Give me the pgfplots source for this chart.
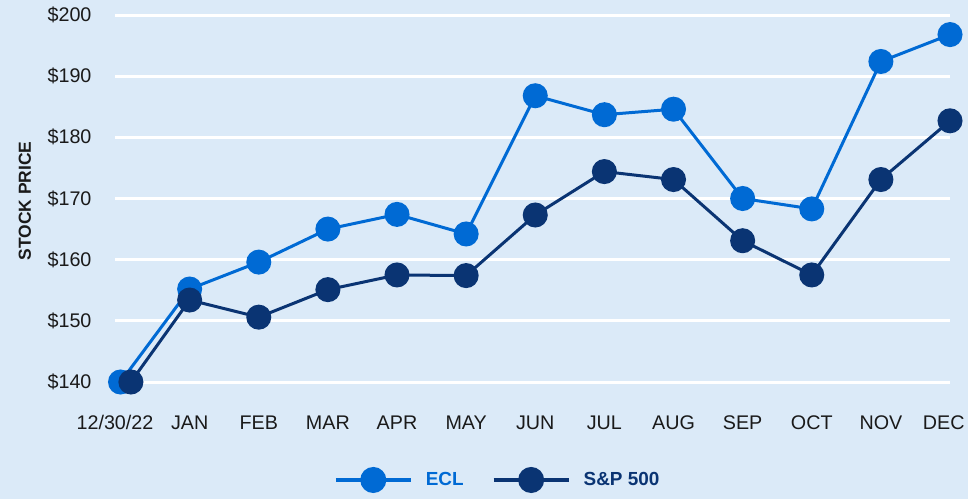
\documentclass[border=0pt]{standalone}
\usepackage{pgfplots}
\pgfplotsset{compat=1.18}
\usepackage{fontspec}
\setmainfont{Liberation Sans}
\definecolor{bgc}{RGB}{219,234,248}
\definecolor{eclc}{RGB}{0,106,212}
\definecolor{spc}{RGB}{10,52,115}
\definecolor{txt}{RGB}{26,26,26}
\begin{document}
\begin{tikzpicture}
\fill[bgc] (-115bp,-117bp) rectangle (853bp,382bp);
\begin{axis}[
  scale only axis,
  width=835bp, height=367bp,
  xmin=-0.08, xmax=12,
  ymin=140, ymax=200,
  clip=false,
  axis x line*=bottom, axis y line*=left,
  axis line style={draw=none},
  ymajorgrids,
  grid style={white, line width=3bp},
  major tick length=0pt,
  xtick={-0.08,1,2,3,4,5,6,7,8,9,10,11,11.91},
  xticklabels={12/30/22,JAN,FEB,MAR,APR,MAY,JUN,JUL,AUG,SEP,OCT,NOV,DEC},
  ytick={140,150,160,170,180,190,200},
  yticklabels={\$140,\$150,\$160,\$170,\$180,\$190,\$200},
  tick label style={font=\fontsize{19.8}{23}\selectfont, text=txt},
  xticklabel style={yshift=-30bp},
  yticklabel style={xshift=-20bp},
  ylabel={STOCK PRICE},
  ylabel style={at={(axis description cs:-0.108,0.493)}, anchor=center, font=\fontsize{17.5}{21}\selectfont\bfseries, text=txt},
  legend columns=2,
  legend style={at={(axis description cs:0.457,-0.267)}, anchor=center, draw=none, fill=none,
    font=\fontsize{19}{22}\selectfont\bfseries,
    /tikz/every even column/.append style={column sep=28bp},
    nodes={inner sep=0pt, anchor=west}},
  legend image code/.code={\draw[#1,line width=4bp,mark repeat=2,mark phase=2] plot coordinates {(0bp,0bp) (37.5bp,0bp) (75bp,0bp)};},
]
\addplot[eclc, line width=3bp, mark=*, mark size=11bp, mark options={fill=eclc, draw=none}] coordinates {
(0,140) (1,155.2) (2,159.6) (3,165.0) (4,167.4) (5,164.2) (6,186.8) (7,183.7) (8,184.6) (9,170.0) (10,168.3) (11,192.4) (12,196.8)};
\addlegendentry{\hspace{13bp}\textcolor{eclc}{ECL}}
\addplot[spc, line width=3bp, mark=*, mark size=11bp, mark options={fill=spc, draw=none}] coordinates {
(0.15,140) (1,153.4) (2,150.6) (3,155.1) (4,157.5) (5,157.4) (6,167.3) (7,174.4) (8,173.1) (9,163.1) (10,157.5) (11,173.1) (12,182.7)};
\addlegendentry{\hspace{13bp}\textcolor{spc}{S\&P 500}}
\end{axis}
\pgfresetboundingbox
\path (-115bp,-117bp) rectangle (853bp,382bp);
\end{tikzpicture}
\end{document}
